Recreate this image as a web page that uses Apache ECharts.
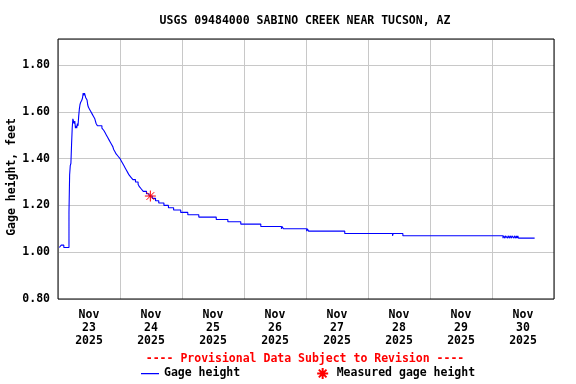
<!DOCTYPE html>
<html>
<head>
<meta charset="utf-8">
<script src="https://cdn.jsdelivr.net/npm/echarts@6/dist/echarts.min.js"></script>
<style>html,body{margin:0;padding:0;background:#fff}#c{width:576px;height:384px}</style>
</head>
<body>
<div id="c"></div>
<script>
const titleText = 'USGS 09484000 SABINO CREEK NEAR TUCSON, AZ';
const provisionalText = '---- Provisional Data Subject to Revision ----';
const yAxisName = 'Gage height, feet';
const dayLabels = ['Nov\n23\n2025','Nov\n24\n2025','Nov\n25\n2025','Nov\n26\n2025','Nov\n27\n2025','Nov\n28\n2025','Nov\n29\n2025','Nov\n30\n2025'];
const startTime = '2025-11-23T00:00';
const endTime = '2025-12-01T00:00';

// gage height readings (change points), feet
const gageTimes = [
 '2025-11-23T00:30','2025-11-23T01:15','2025-11-23T02:15','2025-11-23T04:15','2025-11-23T04:30','2025-11-23T04:45',
 '2025-11-23T05:00','2025-11-23T05:15','2025-11-23T05:30','2025-11-23T05:45','2025-11-23T06:00','2025-11-23T06:15',
 '2025-11-23T06:30','2025-11-23T06:45','2025-11-23T07:00','2025-11-23T07:15','2025-11-23T07:30','2025-11-23T07:45',
 '2025-11-23T08:00','2025-11-23T08:15','2025-11-23T08:30','2025-11-23T08:45','2025-11-23T09:15','2025-11-23T09:30',
 '2025-11-23T09:45','2025-11-23T10:00','2025-11-23T10:15','2025-11-23T10:30','2025-11-23T10:45','2025-11-23T11:15',
 '2025-11-23T11:30','2025-11-23T11:45','2025-11-23T12:15','2025-11-23T12:45','2025-11-23T13:15','2025-11-23T13:45',
 '2025-11-23T14:15','2025-11-23T14:45','2025-11-23T15:15','2025-11-23T17:00','2025-11-23T17:45','2025-11-23T18:15',
 '2025-11-23T18:45','2025-11-23T19:15','2025-11-23T19:45','2025-11-23T20:15','2025-11-23T20:45','2025-11-23T21:15',
 '2025-11-23T21:30','2025-11-23T22:00','2025-11-23T22:30','2025-11-23T23:15',
 '2025-11-24T00:00','2025-11-24T00:30','2025-11-24T01:00','2025-11-24T01:30','2025-11-24T02:00','2025-11-24T02:30',
 '2025-11-24T03:00','2025-11-24T03:30','2025-11-24T04:15','2025-11-24T05:00','2025-11-24T06:00','2025-11-24T07:00',
 '2025-11-24T07:30','2025-11-24T08:15','2025-11-24T09:00','2025-11-24T10:15','2025-11-24T11:15','2025-11-24T12:30',
 '2025-11-24T13:45','2025-11-24T15:00','2025-11-24T17:00','2025-11-24T18:45','2025-11-24T20:45','2025-11-24T23:30',
 '2025-11-25T02:15','2025-11-25T06:30','2025-11-25T13:15','2025-11-25T17:45','2025-11-25T22:45',
 '2025-11-26T06:30','2025-11-26T14:30','2025-11-26T14:45','2025-11-26T15:15',
 '2025-11-27T00:15','2025-11-27T00:30','2025-11-27T01:00','2025-11-27T15:00',
 '2025-11-28T09:30','2025-11-28T09:45','2025-11-28T13:30',
 '2025-11-30T04:15','2025-11-30T04:30','2025-11-30T05:00','2025-11-30T05:15','2025-11-30T06:00','2025-11-30T06:15',
 '2025-11-30T06:45','2025-11-30T07:00','2025-11-30T07:30','2025-11-30T07:45','2025-11-30T08:30','2025-11-30T08:45',
 '2025-11-30T09:15','2025-11-30T09:30','2025-11-30T09:45','2025-11-30T10:00','2025-11-30T10:15','2025-11-30T16:30'
];
const gageValues = [
 1.02,1.03,1.02,1.17,1.33,1.37,
 1.38,1.46,1.53,1.57,1.56,1.55,
 1.56,1.53,1.54,1.53,1.55,1.54,
 1.58,1.61,1.63,1.64,1.65,1.66,
 1.68,1.67,1.68,1.67,1.66,1.65,
 1.63,1.62,1.61,1.60,1.59,1.58,
 1.57,1.55,1.54,1.53,1.52,1.51,
 1.50,1.49,1.48,1.47,1.46,1.45,
 1.44,1.43,1.42,1.41,
 1.40,1.39,1.38,1.37,1.36,1.35,
 1.34,1.33,1.32,1.31,1.30,1.29,
 1.28,1.27,1.26,1.25,1.24,1.23,
 1.22,1.21,1.20,1.19,1.18,1.17,
 1.16,1.15,1.14,1.13,1.12,
 1.11,1.10,1.11,1.10,
 1.09,1.10,1.09,1.08,
 1.07,1.08,1.07,
 1.06,1.07,1.06,1.07,1.06,1.07,
 1.06,1.07,1.06,1.07,1.06,1.07,
 1.06,1.07,1.06,1.07,1.06,1.06
];
const measuredTimes = ['2025-11-24T11:45'];
const measuredValues = [1.24];

const yMin = 0.8, yMax = 1.911, yStep = 0.2;

function hoursFrom(t){ return (Date.parse(t + ':00Z') - Date.parse(startTime + ':00Z')) / 3600000; }
const spanHours = hoursFrom(endTime);
const gageData = gageTimes.map((t,i)=>[hoursFrom(t), gageValues[i]]);
const measData = measuredTimes.map((t,i)=>[hoursFrom(t), measuredValues[i]]);

const FONT = 'DejaVu Sans Mono';
const txt = {fontFamily: FONT, fontWeight: 'bold', fontSize: 11.5, color: '#000'};
const asterisk = 'path://M6,0L6,12M0,6L12,6M1.8,1.8L10.2,10.2M10.2,1.8L1.8,10.2';
const lineIcon = 'path://M0,0L0.01,0L0,0.01Z M18,11L17.99,11L18,10.99Z M0,5L18,5L18,6.2L0,6.2Z';

const chart = echarts.init(document.getElementById('c'), null, {renderer: 'canvas'});
chart.setOption({
  animation: false,
  backgroundColor: '#fff',
  title: [
    {text: titleText, left: 300, textAlign: 'center', top: 10, textStyle: Object.assign({}, txt)},
    {text: provisionalText, left: 300, textAlign: 'center', top: 348, textStyle: Object.assign({}, txt, {color: '#ff0000'})}
  ],
  legend: {
    left: 136, top: 362, itemWidth: 18, itemHeight: 11, itemGap: 76,
    textStyle: Object.assign({}, txt),
    data: [
      {name: 'Gage height', icon: lineIcon, itemStyle: {color: '#0000ff'}},
      {name: 'Measured gage height'}
    ]
  },
  grid: {left: 58, right: 22, top: 39, bottom: 85, containLabel: false, outerBoundsMode: 'none',
         show: true, borderColor: '#000', borderWidth: 1, backgroundColor: 'transparent', z: 5},
  xAxis: [
    {type: 'value', position: 'top', min: 0, max: spanHours, interval: 24,
     axisLine: {show: false}, axisTick: {show: false}, axisLabel: {show: false},
     splitLine: {show: true, lineStyle: {color: '#c8c8c8', width: 1}}},
    {type: 'category', position: 'bottom', data: dayLabels, boundaryGap: true,
     axisLine: {show: false}, axisTick: {show: false}, splitLine: {show: false},
     axisLabel: Object.assign({}, txt, {margin: 10, lineHeight: 13, interval: 0})}
  ],
  yAxis: {type: 'value', min: yMin, max: yMax, interval: yStep,
    name: yAxisName, nameLocation: 'middle', nameGap: 40, nameMoveOverlap: false,
    nameTextStyle: Object.assign({}, txt, {padding: [0,16,0,0]}),
    axisLine: {show: false}, axisTick: {show: false},
    axisLabel: Object.assign({}, txt, {margin: 8, showMaxLabel: false, formatter: v => v.toFixed(2)}),
    splitLine: {show: true, lineStyle: {color: '#c8c8c8', width: 1}}},
  series: [
    {name: 'Gage height', type: 'line', xAxisIndex: 0, step: 'end', symbol: 'none',
     lineStyle: {color: '#0000ff', width: 1.1}, itemStyle: {color: '#0000ff'}, data: gageData, z: 3},
    {name: 'Measured gage height', type: 'scatter', xAxisIndex: 0, symbol: asterisk, symbolSize: 11, symbolKeepAspect: true,
     itemStyle: {color: '#ff0000', borderColor: '#ff0000', borderWidth: 1, opacity: 1}, data: measData, z: 4}
  ]
});
</script>
</body>
</html>
